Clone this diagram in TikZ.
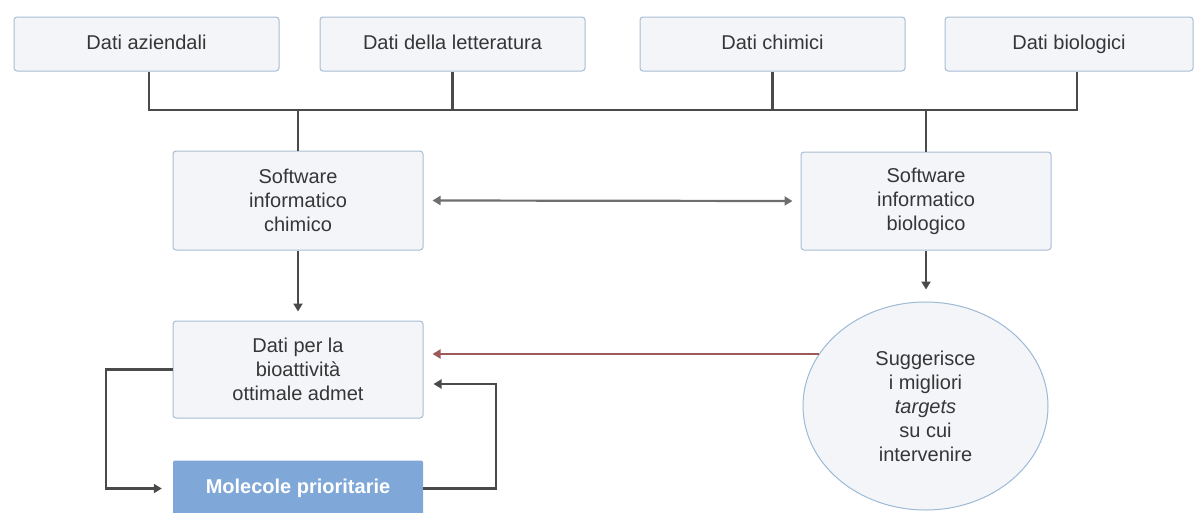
\documentclass[tikz,border=0pt]{standalone}
\usepackage{fontspec}
\setmainfont{Liberation Sans}
\usetikzlibrary{arrows.meta,shapes.geometric}

\definecolor{txt}{HTML}{363636}
\definecolor{boxline}{HTML}{A9BDD4}
\definecolor{boxfill}{HTML}{F3F5F9}
\definecolor{wire}{HTML}{4A4A4A}
\definecolor{softwire}{HTML}{6E6E6E}
\definecolor{redwire}{HTML}{9C5A58}
\definecolor{molfill}{HTML}{7FA7D7}
\definecolor{ovalline}{HTML}{9DB9D5}

\tikzset{
  box/.style={draw=boxline, fill=boxfill, line width=1pt, rounded corners=3pt,
    text=txt, align=center, inner sep=0pt, font=\fontsize{20}{24}\selectfont},
  topbox/.style={box, minimum height=54pt, text height=14.5pt, text depth=4.5pt},
  molbox/.style={fill=molfill, rounded corners=2pt, text=white, inner sep=0pt,
    font=\fontsize{20}{24}\selectfont\bfseries},
  oval/.style={ellipse, draw=ovalline, fill=boxfill, line width=1pt, inner sep=0pt,
    text=txt, align=center, font=\fontsize{20}{24}\selectfont},
  conn/.style={draw=wire, line width=2.2pt},
  tip/.style={-{Triangle[length=8pt,width=9pt]}},
  dbl/.style={draw=softwire, line width=2.2pt,
    {Triangle[length=8pt,width=9pt]}-{Triangle[length=8pt,width=9pt]}},
  redarrow/.style={draw=redwire, line width=2.2pt, -{Triangle[length=8pt,width=9pt]}}
}

\begin{document}
\begin{tikzpicture}[x=1pt,y=-1pt]
  \useasboundingbox (0,0) rectangle (1199,512);

  % source data boxes
  \node[topbox, minimum width=265pt] (d1) at (146.5,44) {Dati aziendali};
  \node[topbox, minimum width=265pt] (d2) at (452.5,44) {Dati della letteratura};
  \node[topbox, minimum width=265pt] (d3) at (772.5,44) {Dati chimici};
  \node[topbox, minimum width=248pt] (d4) at (1069,44) {Dati biologici};

  % software boxes
  \node[box, minimum width=250pt, minimum height=99pt] (sc) at (298,200.5) {Software\\informatico\\chimico};
  \node[box, minimum width=250pt, minimum height=98pt] (sb) at (926,201) {Software\\informatico\\biologico};

  % results
  \node[box, minimum width=250pt, minimum height=97pt] (dp) at (298,369.5) {Dati per la\\bioattività\\ottimale admet};
  \node[molbox, minimum width=250pt, minimum height=56pt] (mol) at (298,488.5) {Molecole prioritarie};
  \node[oval, minimum width=245pt, minimum height=208pt] (el) at (925.5,406)
    {Suggerisce\\i migliori\\\textit{targets}\\su cui\\intervenire};

  % collecting bus
  \coordinate (busL) at (149,110);
  \coordinate (busR) at (1077,110);
  \coordinate (loopL) at (106,0);
  \coordinate (loopR) at (496,0);

  \draw[conn] (d1.south -| busL) -- (busL) -- (busR) -- (busR |- d4.south);
  \draw[conn] (d2.south) -- (d2.south |- busL);
  \draw[conn] (d3.south) -- (d3.south |- busL);
  \draw[conn] (sc.north |- busL) -- (sc.north);
  \draw[conn] (sb.north |- busL) -- (sb.north);

  % exchange between the two software boxes
  \draw[dbl] ([xshift=9pt]sc.east) -- ([xshift=-8pt]sb.west);

  % downward flows
  \draw[conn, tip] (sc.south) -- ([yshift=9pt]dp.north);
  \draw[conn, tip] (sb.south) -- ([yshift=12pt]sb.south |- el.north);

  % targets feed back to the admet data
  \draw[redarrow] (el.154.5) -- ([xshift=9pt]dp.east |- el.154.5);

  % loop between admet data and priority molecules
  \draw[conn, tip] (dp.west) -- (dp.west -| loopL) |- ([xshift=-11pt]mol.west);
  \draw[conn, tip] (mol.east) -- (mol.east -| loopR) |- ([shift={(10pt,-14.5pt)}]dp.east);
\end{tikzpicture}
\end{document}
